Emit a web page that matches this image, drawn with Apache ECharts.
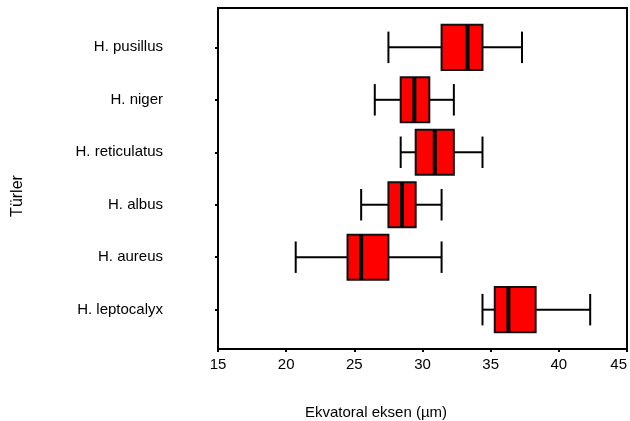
<!DOCTYPE html>
<html>
<head>
<meta charset="UTF-8">
<title></title>
<script type="text/javascript" src="https://cdn.jsdelivr.net/npm/echarts@6/dist/echarts.min.js"></script>
</head>
<body style="margin:0">
<div id="main" style="width:630px;height:421px;"></div>
<script type="text/javascript">
var species = ['H. pusillus', 'H. niger', 'H. reticulatus', 'H. albus', 'H. aureus', 'H. leptocalyx'];
var mins    = [27.5, 26.5, 28.4, 25.5, 20.7, 34.4];
var q1s     = [31.4, 28.4, 29.5, 27.5, 24.5, 35.3];
var medians = [33.3, 29.4, 30.9, 28.5, 25.5, 36.3];
var q3s     = [34.4, 30.5, 32.3, 29.5, 27.5, 38.3];
var maxs    = [37.3, 32.3, 34.4, 31.4, 31.4, 42.3];
var xTicks  = [15, 20, 25, 30, 35, 40, 45];

var myChart = echarts.init(document.getElementById('main'));

var data = [];
for (var i = 0; i < species.length; i++) {
    data.push([i, mins[i], q1s[i], medians[i], q3s[i], maxs[i]]);
}

function renderBox(params, api) {
    var y = api.value(0);
    var unit = api.size([0, 1])[1];
    var boxH = unit * 0.86;
    var capH = unit * 0.6;
    var pMin = api.coord([api.value(1), y]);
    var pQ1 = api.coord([api.value(2), y]);
    var pMed = api.coord([api.value(3), y]);
    var pQ3 = api.coord([api.value(4), y]);
    var pMax = api.coord([api.value(5), y]);
    var cy = pMed[1];
    var line = { stroke: '#000', lineWidth: 2 };
    return {
        type: 'group',
        children: [
            { type: 'line', shape: { x1: pMin[0], y1: cy, x2: pQ1[0], y2: cy }, style: line },
            { type: 'line', shape: { x1: pQ3[0], y1: cy, x2: pMax[0], y2: cy }, style: line },
            { type: 'line', shape: { x1: pMin[0], y1: cy - capH / 2, x2: pMin[0], y2: cy + capH / 2 }, style: line },
            { type: 'line', shape: { x1: pMax[0], y1: cy - capH / 2, x2: pMax[0], y2: cy + capH / 2 }, style: line },
            { type: 'rect', shape: { x: pQ1[0], y: cy - boxH / 2, width: pQ3[0] - pQ1[0], height: boxH },
              style: { fill: '#ff0000', stroke: '#111', lineWidth: 2 } },
            { type: 'rect', shape: { x: pMed[0] - 2, y: cy - boxH / 2, width: 4, height: boxH },
              style: { fill: '#000' } }
        ]
    };
}

var option = {
    animation: false,
    grid: {
        left: 218, right: 3, top: 8, bottom: 72,
        outerBoundsMode: 'none',
        containLabel: false,
        show: true, borderColor: '#000', borderWidth: 2, backgroundColor: '#fff'
    },
    title: {
        text: 'Ekvatoral eksen (µm)',
        left: 300, top: 400,
        textStyle: { fontFamily: 'Liberation Sans', fontSize: 15, fontWeight: 'normal', color: '#000' }
    },
    graphic: [{
        type: 'text',
        x: 18, y: 196,
        rotation: Math.PI / 2,
        style: {
            text: 'Türler',
            font: '16px "Liberation Sans Narrow", "Liberation Sans"',
            fill: '#000',
            textAlign: 'center',
            textVerticalAlign: 'middle'
        }
    }],
    xAxis: {
        type: 'value',
        min: 15, max: 45, interval: 5,
        splitLine: { show: false },
        axisLine: { onZero: false, lineStyle: { color: '#000', width: 2 } },
        axisTick: { length: 3, lineStyle: { color: '#000', width: 2 } },
        axisLabel: {
            margin: 8,
            alignMaxLabel: 'right',
            fontFamily: 'Liberation Sans', fontSize: 15, color: '#000',
            formatter: function (v) { return xTicks.indexOf(v) >= 0 ? String(v) : ''; }
        }
    },
    yAxis: {
        type: 'value',
        inverse: true,
        min: -0.75, max: 5.75,
        splitLine: { show: false },
        axisLine: { show: true, onZero: false, lineStyle: { color: '#000', width: 2 } },
        axisTick: { show: true, length: 3, customValues: [0, 1, 2, 3, 4, 5], lineStyle: { color: '#000', width: 2 } },
        axisLabel: {
            margin: 55,
            customValues: [0, 1, 2, 3, 4, 5],
            fontFamily: 'Liberation Sans', fontSize: 15, color: '#000',
            formatter: function (v) { return species[v]; }
        }
    },
    series: [{
        type: 'custom',
        renderItem: renderBox,
        encode: { x: [1, 2, 3, 4, 5], y: 0 },
        data: data
    }]
};
myChart.setOption(option);
</script>
</body>
</html>
